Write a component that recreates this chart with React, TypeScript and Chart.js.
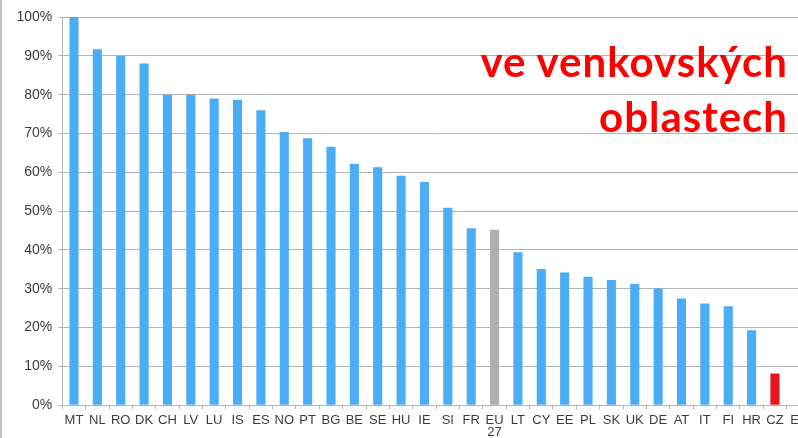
import React, { useEffect, useRef } from "react";
import { Chart, registerables } from "chart.js";

Chart.register(...registerables);

const categories: (string | string[])[] = [
  "MT", "NL", "RO", "DK", "CH", "LV", "LU", "IS", "ES", "NO", "PT", "BG", "BE", "SE", "HU", "IE",
  "SI", "FR", ["EU", "27"], "LT", "CY", "EE", "PL", "SK", "UK", "DE", "AT", "IT", "FI", "HR", "CZ", "EL",
];

const values: (number | null)[] = [
  100, 91.7, 90.0, 88.0, 80.0, 80.0, 79.0, 78.7, 76.0, 70.4, 68.8, 66.6, 62.2, 61.3, 59.1, 57.5,
  50.9, 45.6, 45.2, 39.4, 35.1, 34.2, 33.1, 32.3, 31.3, 30.1, 27.5, 26.2, 25.5, 19.3, 8.2, null,
];

const yTicks: number[] = [0, 10, 20, 30, 40, 50, 60, 70, 80, 90, 100];

const greyCategory = "EU";
const redCategory = "CZ";

const titleLines: string[] = ["ve venkovských", "oblastech"];

const BLUE = "#4aadf6";
const GREY = "#b0b0b2";
const RED = "#e8141e";
const GRID = "#b4b4b4";

export default function App() {
  const canvasRef = useRef<HTMLCanvasElement | null>(null);

  useEffect(() => {
    const canvas = canvasRef.current;
    if (!canvas) return;
    const labelKey = (c: string | string[]) => (Array.isArray(c) ? c[0] : c);
    const colors = categories.map((c) =>
      labelKey(c) === greyCategory ? GREY : labelKey(c) === redCategory ? RED : BLUE
    );
    const chart = new Chart(canvas, {
      type: "bar",
      data: {
        labels: categories as any,
        datasets: [
          {
            data: values as any,
            backgroundColor: colors,
            borderWidth: 0,
            barPercentage: 0.39,
            categoryPercentage: 1,
          },
        ],
      },
      options: {
        responsive: false,
        animation: false,
        devicePixelRatio: 1,
        layout: { padding: { left: 0, right: 20, top: 17, bottom: 0 } },
        plugins: { legend: { display: false }, tooltip: { enabled: false }, title: { display: false } },
        scales: {
          x: {
            offset: true,
            grid: {
              offset: true,
              drawOnChartArea: false,
              drawTicks: true,
              tickLength: 4,
              color: GRID,
            },
            border: { display: true, color: GRID },
            ticks: {
              autoSkip: false,
              maxRotation: 0,
              minRotation: 0,
              padding: 5,
              color: "#3c3c3c",
              font: { family: "'Liberation Sans', Arial, sans-serif", size: 13, lineHeight: 0.95 },
            },
            afterFit: (s: any) => {
              s.height = 32.7;
            },
          },
          y: {
            min: 0,
            max: 100,
            afterBuildTicks: (s: any) => {
              s.ticks = yTicks.map((v) => ({ value: v }));
            },
            grid: { color: GRID, tickLength: 4, lineWidth: 1 },
            border: { display: true, color: GRID },
            ticks: {
              padding: 6,
              color: "#3c3c3c",
              font: { family: "'Liberation Sans', Arial, sans-serif", size: 14 },
              callback: (v: any) => v + "%",
            },
            afterFit: (s: any) => {
              s.width = 62.3;
            },
          },
        },
      },
    });
    return () => chart.destroy();
  }, []);

  return (
    <div
      style={{
        position: "fixed",
        left: 0,
        top: 0,
        width: 798,
        height: 438,
        overflow: "hidden",
        background: "#ffffff",
      }}
    >
      <canvas ref={canvasRef} width={830} height={438} style={{ position: "absolute", left: 0, top: 0 }} />
      <div
        style={{
          position: "absolute",
          left: 0,
          top: 0,
          width: 2,
          height: 438,
          background: "#c4c4c4",
        }}
      />
      <div
        style={{
          position: "absolute",
          right: 10,
          top: 34,
          textAlign: "right",
          color: "#ff0000",
          fontFamily: "Lato, 'Open Sans', sans-serif",
          fontWeight: 700,
          fontSize: 42,
          letterSpacing: 1,
          lineHeight: "55px",
          whiteSpace: "nowrap",
        }}
      >
        {titleLines.map((t, i) => (
          <div key={i}>{t}</div>
        ))}
      </div>
    </div>
  );
}
